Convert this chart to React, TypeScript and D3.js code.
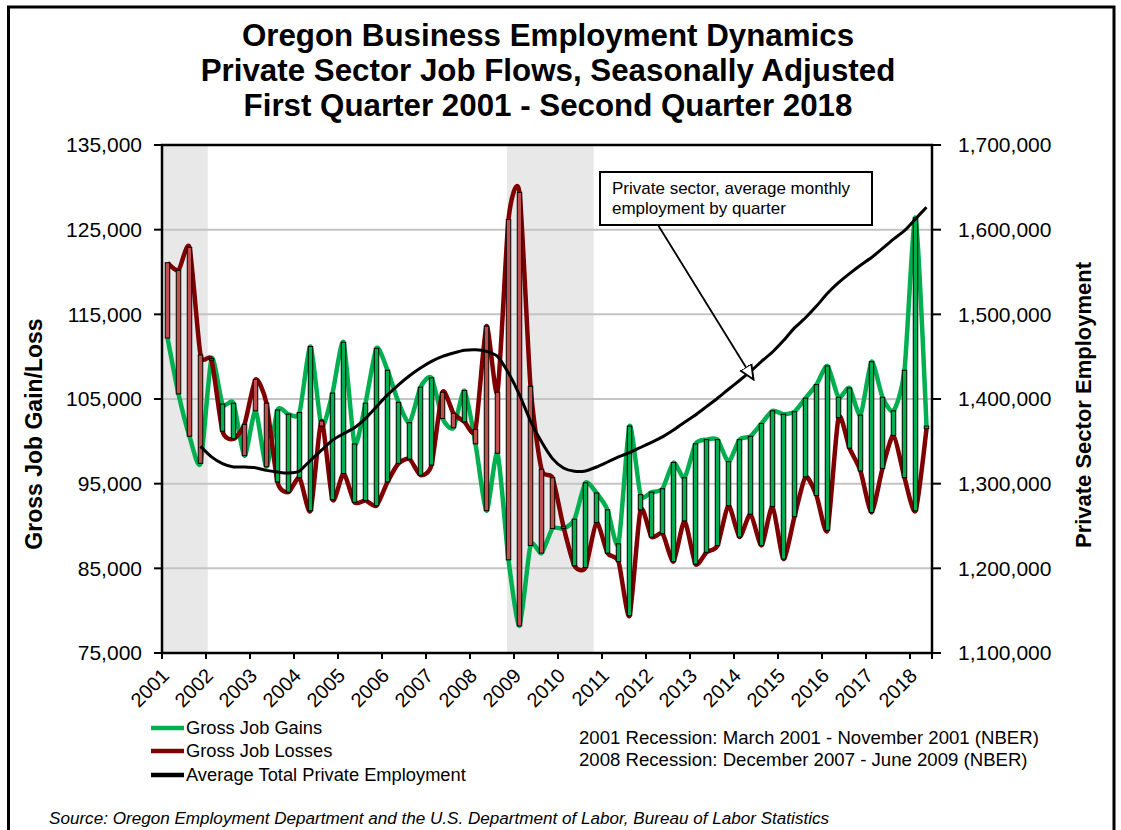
import { useMemo } from "react";
import * as d3 from "d3";

const WIDTH = 1121;
const HEIGHT = 830;
const PLOT = { left: 162, right: 932, top: 145, bottom: 653 };
const FONT = "'Liberation Sans', Arial, sans-serif";

const YEARS = [2001, 2002, 2003, 2004, 2005, 2006, 2007, 2008, 2009, 2010, 2011, 2012, 2013, 2014, 2015, 2016, 2017, 2018];
const QUARTERS = YEARS.flatMap((y) => [1, 2, 3, 4].map((q) => `${y} Q${q}`)).slice(0, 70);

// quarterly gross job gains, 2001 Q1 - 2018 Q2
const GAINS = [
  112200, 105600, 100600, 97400, 109800, 104400, 104500, 98300, 103600, 97000,
  103700, 103200, 103400, 111200, 101800, 105700, 111700, 99700, 104500, 111000,
  108400, 104600, 102200, 106400, 107500, 102700, 101600, 106000, 99700, 91800,
  98600, 86000, 78200, 87700, 86800, 89700, 89700, 90800, 95100, 93900,
  91900, 87900, 101800, 93700, 94000, 94400, 97500, 95700, 99700, 100200,
  100200, 97600, 100200, 100600, 102100, 103600, 103200, 103500, 105100, 106700,
  108900, 105200, 106300, 103100, 109400, 105200, 103600, 108400, 126400, 101800,
];

// quarterly gross job losses
const LOSSES = [
  121100, 120200, 122900, 110200, 109600, 101200, 100300, 102000, 107300, 104500,
  95200, 94000, 95700, 91800, 102400, 93100, 96200, 92800, 93000, 92400,
  95200, 97400, 97900, 96000, 97200, 105800, 103300, 102300, 101400, 113600,
  105800, 126200, 129400, 106500, 96700, 95700, 89900, 85300, 85100, 90400,
  86800, 85800, 79400, 91900, 88700, 89100, 85800, 90600, 85500, 86900,
  87700, 92400, 88700, 91400, 87700, 92300, 86100, 91100, 95800, 93600,
  89500, 102800, 99200, 96500, 91600, 96800, 100700, 95700, 91800, 101500,
];

// average total private employment (starts 2001 Q4)
const EMPLOYMENT: (number | null)[] = [
  null, null, null, 1344000, 1331600, 1323700, 1319700, 1319700, 1318900, 1315700,
  1313800, 1312600, 1315000, 1327600, 1339500, 1351400, 1359000, 1366000, 1377100, 1391000,
  1404800, 1416700, 1427400, 1436500, 1444400, 1450300, 1454300, 1457500, 1458200, 1456300,
  1450300, 1430600, 1405000, 1374000, 1349400, 1329600, 1318500, 1314600, 1315000, 1319700,
  1325600, 1331600, 1336700, 1342700, 1348800, 1355300, 1363300, 1372500, 1381100, 1391000,
  1400900, 1411500, 1421800, 1432500, 1444400, 1455500, 1469000, 1484000, 1495900, 1509700,
  1524800, 1537400, 1548100, 1558000, 1567100, 1577800, 1588900, 1598800, 1612700, 1626500,
];

// shaded recession bands, in fractional years
const RECESSIONS = [
  [2001.0, 2002.04],
  [2008.84, 2010.81],
];

const LEFT_TICKS = [75000, 85000, 95000, 105000, 115000, 125000, 135000];
const RIGHT_TICKS = [1100000, 1200000, 1300000, 1400000, 1500000, 1600000, 1700000];

const GREEN = "#00B050";
const MAROON = "#7F0000";
const DOWN_FILL = "#C0504D";

export default function App() {
  const x = useMemo(
    () => d3.scaleBand<string>().domain(QUARTERS).range([PLOT.left, PLOT.right]).padding(0),
    []
  );
  const bw = x.bandwidth();
  const cx = (i: number) => (x(QUARTERS[i]) ?? 0) + bw / 2;
  const yearX = d3.scaleLinear().domain([2001, 2018.5]).range([PLOT.left, PLOT.right]);
  const y = d3.scaleLinear().domain([75000, 135000]).range([PLOT.bottom, PLOT.top]);
  const yR = d3.scaleLinear().domain([1100000, 1700000]).range([PLOT.bottom, PLOT.top]);

  // Excel-style smoothing, a little tighter than plain Catmull-Rom
  const smooth = d3.curveCardinal.tension(0.35);
  const gainPath = d3.line<number>().x((_, i) => cx(i)).y((d) => y(d)).curve(smooth)(GAINS) ?? "";
  const lossPath = d3.line<number>().x((_, i) => cx(i)).y((d) => y(d)).curve(smooth)(LOSSES) ?? "";
  const empPath =
    d3
      .line<number | null>()
      .defined((d) => d !== null)
      .x((_, i) => cx(i))
      .y((d) => yR(d as number))
      .curve(smooth)(EMPLOYMENT) ?? "";

  const fmt = d3.format(",");
  const barW = 4.5;

  // annotation arrow target on the employment line
  const tipX = cx(53) + 3;
  const tipY = yR(1423000);

  return (
    <div style={{ position: "absolute", left: 0, top: 0 }}>
      <svg width={WIDTH} height={HEIGHT} style={{ display: "block", fontFamily: FONT }}>
        <defs>
          <marker id="arrow" viewBox="0 0 10 10" refX="9" refY="5" markerWidth="9" markerHeight="9" orient="auto">
            <path d="M0,1 L9,5 L0,9 z" fill="white" stroke="black" strokeWidth={1.2} />
          </marker>
        </defs>
        <rect x={0} y={0} width={WIDTH} height={HEIGHT} fill="white" />
        <rect x={8.5} y={7} width={1105.5} height={850} fill="none" stroke="black" strokeWidth={3} />

        {/* title */}
        <g fontWeight="bold" fontSize={31.3} textAnchor="middle" fill="black">
          <text x={548} y={46}>Oregon Business Employment Dynamics</text>
          <text x={548} y={81}>Private Sector Job Flows, Seasonally Adjusted</text>
          <text x={548} y={116}>First Quarter 2001 - Second Quarter 2018</text>
        </g>

        {/* recession shading */}
        {RECESSIONS.map(([a, b], i) => (
          <rect key={i} x={yearX(a)} y={PLOT.top} width={yearX(b) - yearX(a)} height={PLOT.bottom - PLOT.top} fill="#E8E8E8" />
        ))}

        {/* gridlines */}
        {LEFT_TICKS.slice(1, -1).map((t) => (
          <line key={t} x1={PLOT.left} x2={PLOT.right} y1={y(t)} y2={y(t)} stroke="#C4C4C4" strokeWidth={2} />
        ))}

        {/* series lines */}
        <path d={gainPath} fill="none" stroke={GREEN} strokeWidth={4.5} strokeLinejoin="round" />
        <path d={lossPath} fill="none" stroke={MAROON} strokeWidth={4.5} strokeLinejoin="round" />

        {/* up / down bars */}
        {GAINS.map((g, i) => {
          const l = LOSSES[i];
          const top = y(Math.max(g, l));
          const bot = y(Math.min(g, l));
          return (
            <rect
              key={i}
              x={cx(i) - barW / 2}
              y={top}
              width={barW}
              height={Math.max(bot - top, 1)}
              fill={g >= l ? GREEN : DOWN_FILL}
              stroke="black"
              strokeWidth={1}
            />
          );
        })}

        <path d={empPath} fill="none" stroke="black" strokeWidth={3} strokeLinejoin="round" />

        {/* plot frame / axes */}
        <rect x={PLOT.left} y={PLOT.top} width={PLOT.right - PLOT.left} height={PLOT.bottom - PLOT.top} fill="none" stroke="black" strokeWidth={2.5} />

        {/* left axis */}
        {LEFT_TICKS.map((t) => (
          <g key={t}>
            <line x1={PLOT.left - 8} x2={PLOT.left} y1={y(t)} y2={y(t)} stroke="black" strokeWidth={2} />
            <text x={PLOT.left - 20} y={y(t)} dy="0.35em" textAnchor="end" fontSize={21}>
              {fmt(t)}
            </text>
          </g>
        ))}

        {/* right axis */}
        {RIGHT_TICKS.map((t) => (
          <g key={t}>
            <line x1={PLOT.right} x2={PLOT.right + 9} y1={yR(t)} y2={yR(t)} stroke="black" strokeWidth={2} />
            <text x={PLOT.right + 26} y={yR(t)} dy="0.35em" textAnchor="start" fontSize={21}>
              {fmt(t)}
            </text>
          </g>
        ))}

        {/* bottom axis ticks and year labels */}
        {YEARS.map((yr, k) => {
          const i = k * 4;
          const tx = x(QUARTERS[i]) ?? 0;
          const lx = cx(i) - 2;
          return (
            <g key={yr}>
              <line x1={tx} x2={tx} y1={PLOT.bottom} y2={PLOT.bottom + 6} stroke="black" strokeWidth={2} />
              <text transform={`translate(${lx},${PLOT.bottom + 19}) rotate(-45)`} textAnchor="end" dy="0.35em" fontSize={20}>
                {yr}
              </text>
            </g>
          );
        })}
        <line x1={PLOT.right} x2={PLOT.right} y1={PLOT.bottom} y2={PLOT.bottom + 6} stroke="black" strokeWidth={2} />

        {/* axis titles */}
        <text transform="translate(42,434) rotate(-90)" textAnchor="middle" fontWeight="bold" fontSize={23}>
          Gross Job Gain/Loss
        </text>
        <text transform="translate(1091,405) rotate(-90)" textAnchor="middle" fontWeight="bold" fontSize={22}>
          Private Sector Employment
        </text>

        {/* annotation */}
        <line x1={658} y1={225} x2={tipX} y2={tipY} stroke="black" strokeWidth={1.8} markerEnd="url(#arrow)" />
        <rect x={600} y={172} width={272} height={53} fill="white" stroke="black" strokeWidth={2} />
        <text x={612} y={194} fontSize={17}>Private sector, average monthly</text>
        <text x={612} y={214} fontSize={17}>employment by quarter</text>

        {/* legend */}
        {[
          { label: "Gross Job Gains", color: GREEN, yy: 728 },
          { label: "Gross Job Losses", color: MAROON, yy: 751 },
          { label: "Average Total Private Employment", color: "black", yy: 775 },
        ].map((d) => (
          <g key={d.label}>
            <line x1={151} x2={184} y1={d.yy} y2={d.yy} stroke={d.color} strokeWidth={4.5} />
            <text x={186} y={d.yy} dy="0.35em" fontSize={18.3}>
              {d.label}
            </text>
          </g>
        ))}

        <text x={579} y={737} dy="0.35em" fontSize={18.6}>
          2001 Recession: March 2001 - November 2001 (NBER)
        </text>
        <text x={579} y={759} dy="0.35em" fontSize={18.6}>
          2008 Recession: December 2007 - June 2009 (NBER)
        </text>

        <text x={49} y={818} dy="0.35em" fontSize={17.1} fontStyle="italic">
          Source: Oregon Employment Department and the U.S. Department of Labor, Bureau of Labor Statistics
        </text>
      </svg>
    </div>
  );
}
